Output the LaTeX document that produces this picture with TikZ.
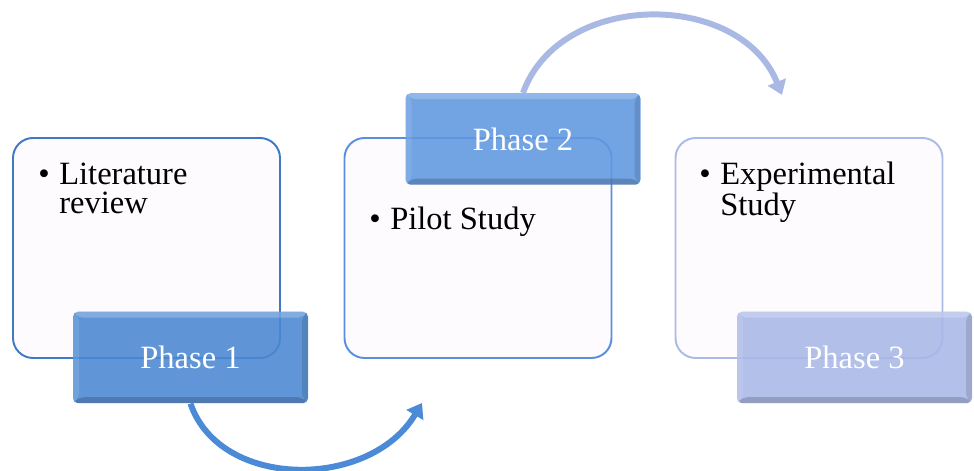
\documentclass[tikz,border=0pt]{standalone}
\usepackage{fontspec}
\setmainfont{Liberation Serif}
\usetikzlibrary{arrows.meta}
\definecolor{bdA}{HTML}{3D7AC6}
\definecolor{bdB}{HTML}{5A8FE0}
\definecolor{bdC}{HTML}{AABBE6}
\definecolor{phA}{HTML}{4A88D2}
\definecolor{phB}{HTML}{5F97E0}
\definecolor{phC}{HTML}{A8B7E7}
\definecolor{arA}{HTML}{4A8AD6}
\definecolor{arB}{HTML}{A9B9E4}
\definecolor{paper}{HTML}{FDFBFD}
\tikzset{
  card/.style={draw=#1, line width=1.1pt, fill=paper, rounded corners=0.4cm,
    minimum width=5.34cm, minimum height=4.40cm, inner sep=0pt},
  bevel/.style={path picture={
    \fill[white,opacity=0.22] (path picture bounding box.north west) -- (path picture bounding box.north east)
      -- ([xshift=-0.12cm,yshift=-0.12cm]path picture bounding box.north east)
      -- ([xshift=0.12cm,yshift=-0.12cm]path picture bounding box.north west) -- cycle;
    \fill[white,opacity=0.10] (path picture bounding box.north west) -- (path picture bounding box.south west)
      -- ([xshift=0.12cm,yshift=0.12cm]path picture bounding box.south west)
      -- ([xshift=0.12cm,yshift=-0.12cm]path picture bounding box.north west) -- cycle;
    \fill[black,opacity=0.18] (path picture bounding box.south west) -- (path picture bounding box.south east)
      -- ([xshift=-0.12cm,yshift=0.12cm]path picture bounding box.south east)
      -- ([xshift=0.12cm,yshift=0.12cm]path picture bounding box.south west) -- cycle;
    \fill[black,opacity=0.12] (path picture bounding box.north east) -- (path picture bounding box.south east)
      -- ([xshift=-0.12cm,yshift=0.12cm]path picture bounding box.south east)
      -- ([xshift=-0.12cm,yshift=-0.12cm]path picture bounding box.north east) -- cycle;
  }},
  phase/.style={fill=#1, fill opacity=0.88, text opacity=1, rounded corners=0.1cm,
    minimum width=4.70cm, minimum height=1.83cm, inner sep=0pt, text=white,
    font=\fontsize{18.5}{20}\selectfont, bevel},
  itemtext/.style={anchor=north west, inner sep=0pt, align=left,
    font=\fontsize{18.5}{16.5}\selectfont},
  flow/.style={line width=3.4pt, -{Triangle[length=0.28cm, width=0.38cm]}}
}
\newcommand{\bul}{\makebox[0.42cm][l]{\textbullet}}
\newcommand{\ind}{\hspace*{0.42cm}}
\begin{document}
\begin{tikzpicture}
\useasboundingbox (0,0) rectangle (19.48,9.42);
% cards
\node[card=bdA] (b1) at (2.93,4.46) {};
\node[card=bdB] (b2) at (9.56,4.46) {};
\node[card=bdC] (b3) at (16.18,4.46) {};
% card texts
\node[itemtext] (t1) at (0.76,6.17) {\bul Literature\\\ind review};
\node[itemtext] (t2) at (7.38,5.29) {\bul Pilot Study};
\node[itemtext] (t3) at (13.98,6.19) {\bul Experimental\\\ind Study};
% phase boxes
\node[phase=phA] (p1) at (3.81,2.27) {Phase 1};
\node[phase=phB] (p2) at (10.46,6.64) {Phase 2};
\node[phase=phC] (p3) at (17.09,2.27) {Phase 3};
% connectors
\coordinate (e1) at (8.44,1.36);
\coordinate (e2) at (15.64,7.52);
\draw[flow, draw=arA, arA]
  (p1.south) .. controls (4.40,-0.38) and (7.40,-0.38) .. (e1);
\draw[flow, draw=arB, arB]
  (p2.north) .. controls (11.20,9.62) and (14.80,9.62) .. (e2);
\end{tikzpicture}
\end{document}
